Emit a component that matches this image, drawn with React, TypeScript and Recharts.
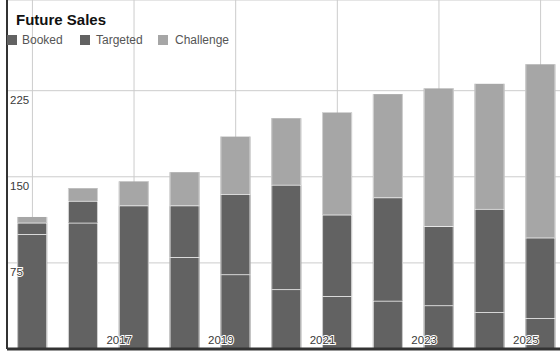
import React from "react";
import { BarChart, Bar, XAxis, YAxis, CartesianGrid } from "recharts";

const years = ["2015", "2016", "2017", "2018", "2019", "2020", "2021", "2022", "2023", "2024", "2025"];
const booked = [100, 110, 125, 80, 65, 52, 46, 42, 38, 32, 27];
const targeted = [10, 19, 0, 45, 70, 91, 71, 90, 69, 90, 70];
const challenge = [5, 11, 21, 29, 50, 58, 89, 90, 120, 109, 151];
const yTicks = [75, 150, 225];

const DARK = "#626262";
const LIGHT = "#a6a6a6";
const FONT = "'Liberation Sans', Arial, sans-serif";

const data = years.map((year, i) => ({
  year,
  booked: booked[i],
  targeted: targeted[i],
  challenge: challenge[i],
}));

const legendItems = [
  { name: "Booked", color: DARK, left: 7, textLeft: 22 },
  { name: "Targeted", color: DARK, left: 80, textLeft: 96 },
  { name: "Challenge", color: LIGHT, left: 158, textLeft: 175 },
];

// stacked segment: fill, pale side edges, white seam on top where the next segment sits
function segmentShape(withSeam: boolean) {
  return (props: any) => {
    const { x, y, width, height, fill } = props;
    if (!height || height <= 0) return <g />;
    return (
      <g>
        <rect x={x} y={y} width={width} height={height} fill={fill} />
        <line x1={x + 0.5} x2={x + 0.5} y1={y} y2={y + height} stroke="#d2d2d2" strokeWidth={1} />
        <line x1={x + width - 0.5} x2={x + width - 0.5} y1={y} y2={y + height} stroke="#d2d2d2" strokeWidth={1} />
        {withSeam && <line x1={x} x2={x + width} y1={y} y2={y} stroke="#ffffff" strokeWidth={1.5} />}
      </g>
    );
  };
}

const haloText = {
  fontFamily: FONT,
  fontSize: 11.5,
  fill: "#3a3a3a",
  stroke: "#ffffff",
  strokeWidth: 2,
  paintOrder: "stroke" as const,
};

function XTick(props: any) {
  const { x, y, payload } = props;
  if (payload.value === "2015") return <g />;
  return (
    <text x={x - 2} y={y - 5} textAnchor="end" style={haloText}>
      {payload.value}
    </text>
  );
}

function YTick(props: any) {
  const { y, payload } = props;
  return (
    <text x={10} y={y + 13} textAnchor="start" style={haloText}>
      {payload.value}
    </text>
  );
}

export default function App() {
  return (
    <div style={{ position: "absolute", left: 0, top: 0, width: 560, height: 352, overflow: "hidden", background: "#fff" }}>
      <BarChart
        width={566}
        height={352}
        data={data}
        margin={{ top: 0, right: 0, left: 6, bottom: 2 }}
        barCategoryGap="20%"
      >
        <CartesianGrid stroke="#cccccc" strokeWidth={1} />
        <Bar dataKey="booked" stackId="s" fill={DARK} shape={segmentShape(true)} isAnimationActive={false} />
        <Bar dataKey="targeted" stackId="s" fill={DARK} shape={segmentShape(true)} isAnimationActive={false} />
        <Bar dataKey="challenge" stackId="s" fill={LIGHT} shape={segmentShape(false)} isAnimationActive={false} />
        <XAxis
          dataKey="year"
          height={1}
          interval={1}
          tickSize={0}
          tickMargin={0}
          tickLine={false}
          axisLine={{ stroke: "#333333", strokeWidth: 3 }}
          tick={(p: any) => <XTick {...p} />}
        />
        <YAxis
          width={1}
          domain={[0, 304]}
          ticks={yTicks}
          tickLine={false}
          axisLine={{ stroke: "#333333", strokeWidth: 2 }}
          tick={(p: any) => <YTick {...p} />}
        />
      </BarChart>
      <div
        style={{
          position: "absolute",
          left: 16,
          top: 10,
          fontFamily: FONT,
          fontWeight: "bold",
          fontSize: 15,
          color: "#111",
          lineHeight: "20px",
        }}
      >
        Future Sales
      </div>
      {legendItems.map((item) => (
        <React.Fragment key={item.name}>
          <div
            style={{ position: "absolute", left: item.left, top: 35, width: 10, height: 10, background: item.color }}
          />
          <div
            style={{
              position: "absolute",
              left: item.textLeft,
              top: 32,
              fontFamily: FONT,
              fontSize: 12,
              color: "#555",
              lineHeight: "16px",
            }}
          >
            {item.name}
          </div>
        </React.Fragment>
      ))}
    </div>
  );
}
